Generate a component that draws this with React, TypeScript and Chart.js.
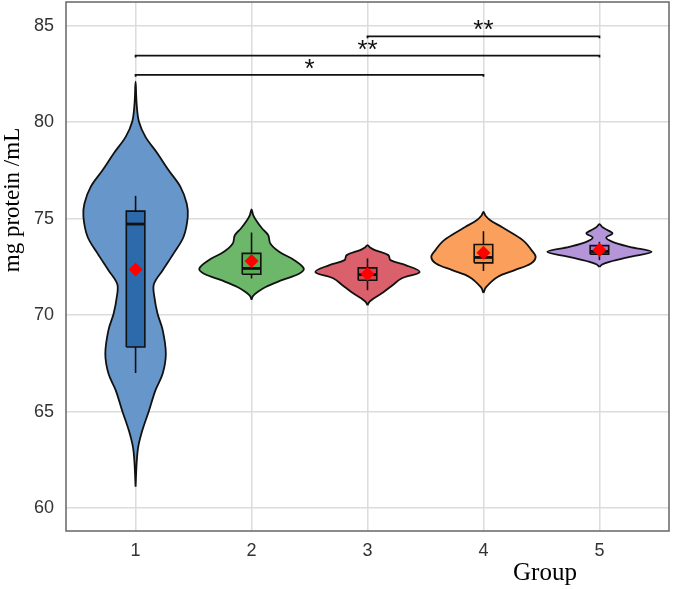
import { useEffect, useRef } from 'react';
import { Chart, registerables } from 'chart.js';

Chart.register(...registerables);

// Groups on the x axis and tick values on the y axis
const groups = [1, 2, 3, 4, 5];
const yTicks = [60, 65, 70, 75, 80, 85];
const xLimits = [0.4, 5.6];
const yLimits = [58.81, 86.23];

// Kernel density outline per group: [value, relative half-width], bottom tip to top tip
const density1: [number, number][] = [
  [61.1, 0], [62.3, 0.02], [63.16, 0.05], [64.03, 0.13], [65.07, 0.26], [66.1, 0.38],
  [66.97, 0.52], [68.0, 0.58], [69.22, 0.52], [70.08, 0.42], [70.94, 0.36], [71.6, 0.35],
  [72.33, 0.52], [73.2, 0.73], [74.06, 0.92], [75.1, 1], [75.79, 0.98], [76.65, 0.86],
  [77.52, 0.63], [78.38, 0.42], [79.24, 0.19], [80.02, 0.065], [80.97, 0.02], [82.1, 0],
];
const density2: [number, number][] = [
  [70.8, 0], [71.0, 0.03], [71.2, 0.115], [71.46, 0.27], [71.81, 0.58], [72.16, 0.92],
  [72.42, 1], [72.85, 0.82], [73.28, 0.53], [73.71, 0.36], [74.14, 0.32], [74.5, 0.2],
  [74.9, 0.09], [75.2, 0.03], [75.48, 0],
];
const density3: [number, number][] = [
  [70.51, 0], [70.7, 0.04], [70.86, 0.115], [71.2, 0.31], [71.55, 0.48], [71.9, 0.65],
  [72.24, 1], [72.59, 0.73], [72.85, 0.44], [73.11, 0.4], [73.37, 0.14], [73.5, 0.05], [73.63, 0],
];
const density4: [number, number][] = [
  [71.15, 0], [71.45, 0.05], [71.98, 0.27], [72.33, 0.6], [72.68, 0.91], [73.02, 1],
  [73.37, 0.92], [73.8, 0.79], [74.23, 0.56], [74.57, 0.35], [74.92, 0.13], [75.15, 0.04], [75.35, 0],
];
const density5: [number, number][] = [
  [72.5, 0], [72.62, 0.05], [72.76, 0.19], [73.02, 0.58], [73.28, 1], [73.54, 0.58],
  [73.8, 0.25], [74.02, 0.13], [74.23, 0.25], [74.4, 0.16], [74.55, 0.06], [74.71, 0],
];
const densities = [density1, density2, density3, density4, density5];

// Box plot statistics per group
const whiskerLow = [67.0, 71.9, 71.29, 72.29, 72.85];
const q1 = [68.35, 72.12, 71.81, 72.71, 73.16];
const median = [74.72, 72.42, 72.1, 72.99, 73.3];
const q3 = [75.39, 73.2, 72.45, 73.66, 73.6];
const whiskerHigh = [76.18, 74.28, 72.94, 74.35, 73.8];
const means = [72.36, 72.8, 72.13, 73.23, 73.37];

// Significance brackets
const bracketFrom = [1, 1, 3];
const bracketTo = [4, 5, 5];
const bracketY = [82.45, 83.45, 84.45];
const bracketLabel = ['*', '**', '**'];

const violinColors = ['#6796ca', '#6cb769', '#da616b', '#fa9f5c', '#b495da'];
const boxColors = ['#2c6aac', '#58ad54', '#e0414b', '#f78f38', '#9e7ad1'];

const violinHalfWidth = 0.45;
const boxHalfWidth = 0.08;
const ink = '#111111';

const sans = "'Liberation Sans', Arial, sans-serif";
const serif = "'Liberation Serif', 'Times New Roman', serif";

function buildDatasets() {
  const ds: any[] = [];
  groups.forEach((g, i) => {
    const prof = densities[i];
    const right = prof.map(([y, w]) => ({ x: g + w * violinHalfWidth, y }));
    const left = prof
      .slice()
      .reverse()
      .slice(1)
      .map(([y, w]) => ({ x: g - w * violinHalfWidth, y }));
    ds.push({
      data: [...right, ...left],
      showLine: true,
      fill: 'shape',
      backgroundColor: violinColors[i],
      borderColor: ink,
      borderWidth: 1.8,
      pointRadius: 0,
      tension: 0.35,
      order: 10,
    });
    ds.push({
      data: [
        { x: g, y: whiskerLow[i] },
        { x: g, y: whiskerHigh[i] },
      ],
      showLine: true,
      borderColor: ink,
      borderWidth: 1.6,
      pointRadius: 0,
      order: 8,
    });
    ds.push({
      data: [
        { x: g - boxHalfWidth, y: q1[i] },
        { x: g + boxHalfWidth, y: q1[i] },
        { x: g + boxHalfWidth, y: q3[i] },
        { x: g - boxHalfWidth, y: q3[i] },
        { x: g - boxHalfWidth, y: q1[i] },
      ],
      showLine: true,
      fill: 'shape',
      backgroundColor: boxColors[i],
      borderColor: ink,
      borderWidth: 1.6,
      pointRadius: 0,
      tension: 0,
      order: 7,
    });
    ds.push({
      data: [
        { x: g - boxHalfWidth, y: median[i] },
        { x: g + boxHalfWidth, y: median[i] },
      ],
      showLine: true,
      borderColor: ink,
      borderWidth: 2.8,
      pointRadius: 0,
      order: 6,
    });
  });
  bracketFrom.forEach((from, k) => {
    const to = bracketTo[k];
    const y = bracketY[k];
    ds.push({
      data: [
        { x: from, y: y - 0.1 },
        { x: from, y },
        { x: to, y },
        { x: to, y: y - 0.1 },
      ],
      showLine: true,
      borderColor: ink,
      borderWidth: 1.8,
      pointRadius: 0,
      order: 3,
    });
  });
  ds.push({
    data: groups.map((g, i) => ({ x: g, y: means[i] })),
    showLine: false,
    pointStyle: 'rectRot',
    pointRadius: 7,
    backgroundColor: '#ff0000',
    borderWidth: 0,
    order: 1,
  });
  return ds;
}

const decorPlugin = {
  id: 'decor',
  afterDatasetsDraw(chart: any) {
    const { ctx, chartArea, scales } = chart;
    const xs = scales.x;
    const ys = scales.y;
    ctx.save();
    // panel border
    ctx.strokeStyle = '#666666';
    ctx.lineWidth = 1.5;
    ctx.strokeRect(chartArea.left, chartArea.top, chartArea.right - chartArea.left, chartArea.bottom - chartArea.top);

    // significance labels
    ctx.fillStyle = ink;
    ctx.font = `26px ${sans}`;
    ctx.textAlign = 'center';
    ctx.textBaseline = 'alphabetic';
    bracketFrom.forEach((from, k) => {
      const cx = xs.getPixelForValue((from + bracketTo[k]) / 2);
      const cy = ys.getPixelForValue(bracketY[k]);
      ctx.fillText(bracketLabel[k], cx, cy + 2);
    });

    // axis titles
    ctx.fillStyle = '#000';
    ctx.font = `25px ${serif}`;
    ctx.fillText('Group', 545, 580);

    ctx.font = `23px ${serif}`;
    ctx.translate(19, 200);
    ctx.rotate(-Math.PI / 2);
    ctx.fillText('mg protein /mL', 0, 0);
    ctx.restore();
  },
};

export default function App() {
  const ref = useRef<HTMLCanvasElement | null>(null);

  useEffect(() => {
    if (!ref.current) return;
    const chart = new Chart(ref.current, {
      type: 'scatter',
      data: { datasets: buildDatasets() },
      options: {
        responsive: false,
        animation: false,
        events: [],
        layout: { autoPadding: false, padding: { top: 2, right: 4, left: 0, bottom: 0 } },
        plugins: { legend: { display: false }, tooltip: { enabled: false } },
        scales: {
          x: {
            type: 'linear',
            min: xLimits[0],
            max: xLimits[1],
            afterBuildTicks: (s: any) => {
              s.ticks = groups.map((v) => ({ value: v }));
            },
            afterFit: (s: any) => {
              s.height = 58;
              s.paddingLeft = 0;
              s.paddingRight = 0;
            },
            ticks: {
              font: { family: sans, size: 18 },
              color: '#333333',
              padding: 9,
              maxRotation: 0,
              autoSkip: false,
              callback: (v: any) => String(v),
            },
            grid: { color: '#dcdcdc', lineWidth: 1.5, drawTicks: false },
            border: { display: false },
          },
          y: {
            type: 'linear',
            min: yLimits[0],
            max: yLimits[1],
            afterBuildTicks: (s: any) => {
              s.ticks = yTicks.map((v) => ({ value: v }));
            },
            afterFit: (s: any) => {
              s.width = 66;
              s.paddingTop = 0;
              s.paddingBottom = 0;
            },
            ticks: {
              font: { family: sans, size: 18 },
              color: '#333333',
              padding: 12,
              autoSkip: false,
              callback: (v: any) => String(v),
            },
            grid: { color: '#dcdcdc', lineWidth: 1.5, drawTicks: false },
            border: { display: false },
          },
        },
      },
      plugins: [decorPlugin],
    });
    return () => chart.destroy();
  }, []);

  return (
    <div style={{ position: 'absolute', left: 0, top: 0, width: 673, height: 589, background: '#fff' }}>
      <canvas ref={ref} width={673} height={589} style={{ display: 'block' }} />
    </div>
  );
}
